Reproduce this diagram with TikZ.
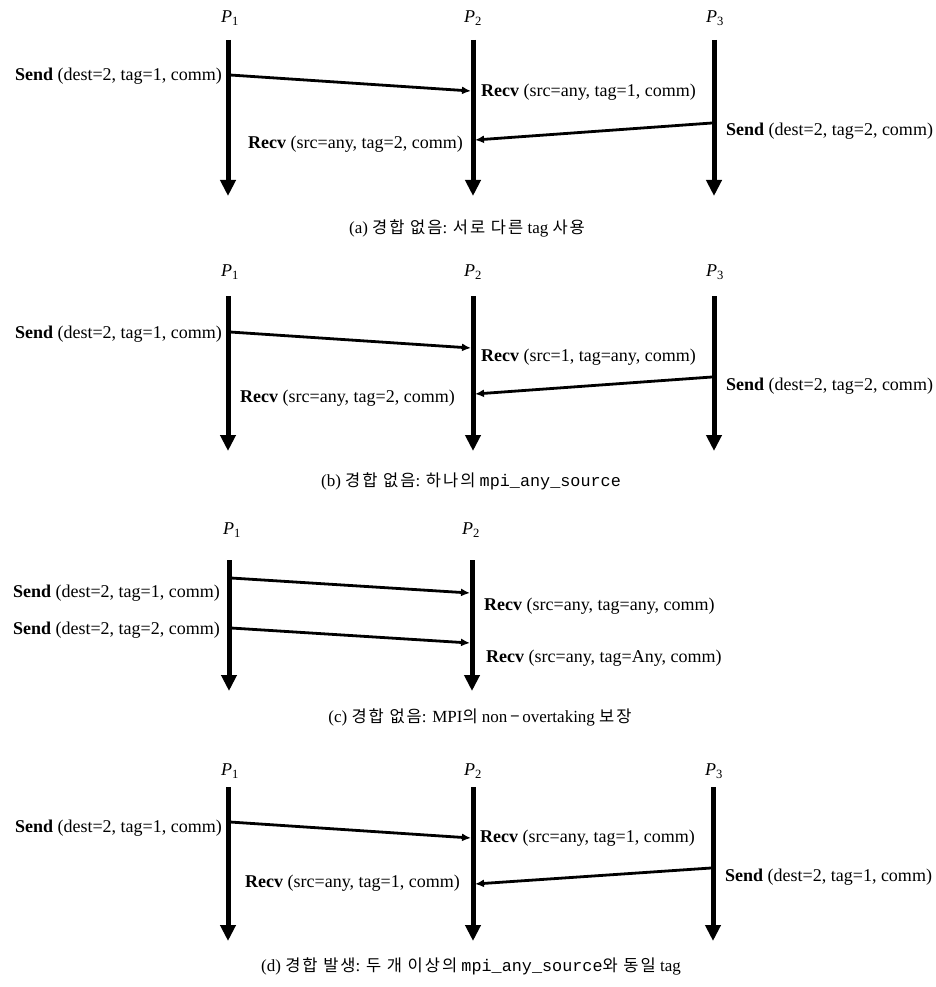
\documentclass[tikz,border=0pt]{standalone}
\usepackage{fontspec}
\setmainfont{Liberation Serif}
\setmonofont{Liberation Mono}
\newfontfamily\krfont[LetterSpace=12]{Noto Sans CJK KR}
\usetikzlibrary{arrows.meta}
\tikzset{
  lifeline/.style={line width=5pt,-{Triangle[length=16pt,width=15pt]}},
  msg/.style={line width=2.8pt,-{Latex[length=9pt,width=8pt]}},
  proc/.style={font=\fontsize{18}{20}\selectfont\itshape,inner sep=0pt},
  call/.style={font=\fontsize{18}{20}\selectfont,inner sep=0pt},
  caption/.style={font=\fontsize{17}{19}\selectfont,inner sep=0pt}
}
\newcommand{\pname}[1]{P\textsubscript{\upshape #1}}
\newcommand{\kr}[1]{{\krfont\fontsize{16.5}{19}\selectfont #1}}
\newcommand{\mpiname}[1]{{\ttfamily\fontsize{16.8}{19}\selectfont #1}}
\begin{document}
\begin{tikzpicture}[x=1pt,y=-1pt]
\useasboundingbox[fill=white] (0,0) rectangle (935,987);

% ---------- (a) different tags ----------
\node[proc] (a1) at (230,18) {\pname{1}};
\node[proc] (a2) at (473,18) {\pname{2}};
\node[proc] (a3) at (715,18) {\pname{3}};
\coordinate (a1t) at (228,40);  \coordinate (a1b) at (228,196);
\coordinate (a2t) at (473,40);  \coordinate (a2b) at (473,196);
\coordinate (a3t) at (714,40);  \coordinate (a3b) at (714,196);
\draw[lifeline] (a1t) -- (a1b);
\draw[lifeline] (a2t) -- (a2b);
\draw[lifeline] (a3t) -- (a3b);
\coordinate (am1s) at (230,75);  \coordinate (am1e) at (471,91);
\coordinate (am2s) at (712,123); \coordinate (am2e) at (475,140);
\draw[msg] (am1s) -- (am1e);
\draw[msg] (am2s) -- (am2e);
\node[call,anchor=east] (as1) at (222,76) {\textbf{Send} (dest=2, tag=1, comm)};
\node[call,anchor=west] (ar1) at (481,92) {\textbf{Recv} (src=any, tag=1, comm)};
\node[call,anchor=west] (as2) at (726,131) {\textbf{Send} (dest=2, tag=2, comm)};
\node[call,anchor=east] (ar2) at (463,144) {\textbf{Recv} (src=any, tag=2, comm)};
\node[caption] (acap) at (467,228) {(a) \kr{경합 없음}: \kr{서로 다른} tag \kr{사용}};

% ---------- (b) one mpi_any_source ----------
\node[proc] (b1) at (230,272) {\pname{1}};
\node[proc] (b2) at (473,272) {\pname{2}};
\node[proc] (b3) at (715,272) {\pname{3}};
\coordinate (b1t) at (228,296);  \coordinate (b1b) at (228,451);
\coordinate (b2t) at (473,296);  \coordinate (b2b) at (473,451);
\coordinate (b3t) at (714,296);  \coordinate (b3b) at (714,451);
\draw[lifeline] (b1t) -- (b1b);
\draw[lifeline] (b2t) -- (b2b);
\draw[lifeline] (b3t) -- (b3b);
\coordinate (bm1s) at (230,332); \coordinate (bm1e) at (471,348);
\coordinate (bm2s) at (712,377); \coordinate (bm2e) at (475,394);
\draw[msg] (bm1s) -- (bm1e);
\draw[msg] (bm2s) -- (bm2e);
\node[call,anchor=east] (bs1) at (222,334) {\textbf{Send} (dest=2, tag=1, comm)};
\node[call,anchor=west] (br1) at (481,357) {\textbf{Recv} (src=1, tag=any, comm)};
\node[call,anchor=west] (bs2) at (726,386) {\textbf{Send} (dest=2, tag=2, comm)};
\node[call,anchor=east] (br2) at (455,398) {\textbf{Recv} (src=any, tag=2, comm)};
\node[caption] (bcap) at (471,481) {(b) \kr{경합 없음}: \kr{하나의} \mpiname{mpi\_any\_source}};

% ---------- (c) non-overtaking ----------
\node[proc] (c1) at (232,530) {\pname{1}};
\node[proc] (c2) at (471,530) {\pname{2}};
\coordinate (c1t) at (229,560);  \coordinate (c1b) at (229,691);
\coordinate (c2t) at (472,560);  \coordinate (c2b) at (472,691);
\draw[lifeline] (c1t) -- (c1b);
\draw[lifeline] (c2t) -- (c2b);
\coordinate (cm1s) at (231,578); \coordinate (cm1e) at (470,593);
\coordinate (cm2s) at (231,628); \coordinate (cm2e) at (470,643);
\draw[msg] (cm1s) -- (cm1e);
\draw[msg] (cm2s) -- (cm2e);
\node[call,anchor=east] (cs1) at (220,593) {\textbf{Send} (dest=2, tag=1, comm)};
\node[call,anchor=east] (cs2) at (220,630) {\textbf{Send} (dest=2, tag=2, comm)};
\node[call,anchor=west] (cr1) at (484,606) {\textbf{Recv} (src=any, tag=any, comm)};
\node[call,anchor=west] (cr2) at (486,658) {\textbf{Recv} (src=any, tag=Any, comm)};
\node[caption] (ccap) at (480,717) {(c) \kr{경합 없음}: MPI\kr{의} non\,\kr{−}\,overtaking \kr{보장}};

% ---------- (d) race ----------
\node[proc] (d1) at (230,771) {\pname{1}};
\node[proc] (d2) at (473,771) {\pname{2}};
\node[proc] (d3) at (714,771) {\pname{3}};
\coordinate (d1t) at (228,787);  \coordinate (d1b) at (228,941);
\coordinate (d2t) at (473,787);  \coordinate (d2b) at (473,941);
\coordinate (d3t) at (713,787);  \coordinate (d3b) at (713,941);
\draw[lifeline] (d1t) -- (d1b);
\draw[lifeline] (d2t) -- (d2b);
\draw[lifeline] (d3t) -- (d3b);
\coordinate (dm1s) at (230,822); \coordinate (dm1e) at (471,838);
\coordinate (dm2s) at (711,868); \coordinate (dm2e) at (475,884);
\draw[msg] (dm1s) -- (dm1e);
\draw[msg] (dm2s) -- (dm2e);
\node[call,anchor=east] (ds1) at (222,828) {\textbf{Send} (dest=2, tag=1, comm)};
\node[call,anchor=west] (dr1) at (480,838) {\textbf{Recv} (src=any, tag=1, comm)};
\node[call,anchor=west] (ds2) at (725,877) {\textbf{Send} (dest=2, tag=1, comm)};
\node[call,anchor=east] (dr2) at (460,883) {\textbf{Recv} (src=any, tag=1, comm)};
\node[caption] (dcap) at (471,966) {(d) \kr{경합 발생}: \kr{두 개 이상의} \mpiname{mpi\_any\_source}\kr{와 동일} tag};
\end{tikzpicture}
\end{document}
